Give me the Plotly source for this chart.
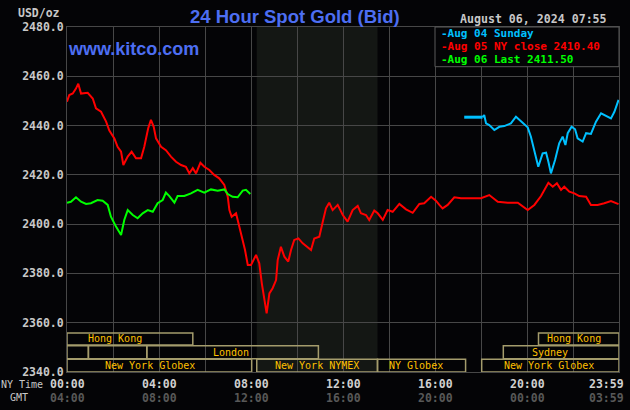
import plotly.graph_objects as go

# ---------------- data (NY time in decimal hours, price USD/oz) ----------------
red_t = [0.00,0.10,0.25,0.39,0.49,0.61,0.90,1.12,1.26,1.48,1.70,1.84,2.06,2.20,2.35,2.45,2.64,2.81,3.00,3.22,
         3.36,3.53,3.65,3.77,3.87,4.09,4.30,4.52,4.74,4.96,5.17,5.32,5.47,5.61,5.80,5.97,6.19,6.40,6.62,6.84,
         6.99,7.06,7.16,7.35,7.49,7.64,7.74,7.86,8.00,8.22,8.36,8.47,8.58,8.68,8.80,8.94,9.09,9.16,9.30,9.45,
         9.62,9.74,9.88,10.06,10.25,10.42,10.61,10.75,10.97,11.12,11.26,11.40,11.55,11.77,11.99,12.20,12.42,12.64,12.78,13.00,
         13.14,13.36,13.51,13.73,13.94,14.16,14.45,14.74,15.03,15.32,15.53,15.83,16.04,16.19,16.33,16.55,16.84,17.13,18.00,18.36,
         18.73,19.16,19.60,20.03,20.32,20.61,20.93,21.12,21.30,21.48,21.62,21.84,22.06,22.27,22.57,22.78,23.07,23.36,23.65,23.98]
red_v = [2449.7,2452.4,2453.0,2455.0,2457.0,2453.0,2453.3,2451.0,2447.0,2445.6,2441.6,2438.0,2434.8,2431.4,2429.4,2424.0,2427.4,2429.4,2426.7,2426.7,
         2431.4,2438.9,2442.3,2439.5,2434.8,2431.4,2430.0,2427.4,2425.3,2424.0,2423.3,2420.6,2422.7,2420.6,2424.9,2423.3,2422.0,2420.0,2418.6,2415.9,
         2411.1,2405.7,2403.0,2404.4,2399.0,2393.6,2389.5,2383.4,2383.4,2387.5,2384.1,2376.0,2368.5,2363.8,2371.9,2374.0,2377.3,2385.4,2390.8,2386.8,
         2384.8,2389.5,2393.6,2394.2,2392.2,2390.8,2389.5,2394.2,2394.9,2401.0,2406.4,2408.7,2405.7,2407.8,2403.7,2401.0,2405.7,2407.4,2404.4,2403.7,
         2401.7,2405.5,2404.4,2401.7,2405.7,2405.0,2408.2,2406.0,2404.6,2408.2,2408.5,2411.1,2409.5,2407.8,2406.4,2407.8,2410.9,2410.5,2410.5,2411.8,
         2409.1,2408.7,2408.7,2405.7,2407.8,2411.4,2416.8,2415.2,2416.6,2413.9,2415.2,2413.2,2412.5,2411.4,2411.1,2407.8,2407.8,2408.5,2409.4,2408.1]

blue_t = [17.27,18.07,18.14,18.22,18.36,18.58,18.80,19.01,19.30,19.52,19.74,20.03,20.17,20.32,20.49,20.68,20.83,20.93,
          21.04,21.22,21.40,21.55,21.67,21.77,21.94,22.09,22.20,22.42,22.57,22.78,23.00,23.22,23.43,23.65,23.80,23.98]
blue_v = [2443.4,2443.4,2444.3,2440.9,2440.2,2438.2,2439.5,2439.8,2440.9,2443.6,2441.6,2439.3,2435.5,2430.1,2423.3,2428.7,2429.0,2425.3,
          2420.6,2426.0,2432.8,2435.5,2432.1,2436.9,2439.5,2438.5,2434.8,2433.5,2436.9,2436.6,2441.6,2445.0,2443.9,2442.9,2445.6,2450.4]

green_t = [0.00,0.17,0.39,0.61,0.83,1.04,1.33,1.55,1.77,1.91,2.13,2.35,2.49,2.64,2.86,3.07,3.29,3.51,3.73,
           3.94,4.16,4.30,4.45,4.67,4.81,5.10,5.39,5.68,5.97,6.26,6.55,6.84,6.99,7.20,7.42,7.64,7.78,7.97]
green_v = [2408.7,2409.1,2410.9,2409.1,2408.2,2408.5,2409.8,2409.5,2407.8,2403.0,2399.0,2395.6,2401.7,2405.7,2403.7,2402.4,2404.4,2405.7,2405.0,
           2408.5,2409.8,2412.8,2411.4,2408.7,2411.4,2411.4,2412.5,2413.9,2412.8,2414.1,2413.6,2414.1,2412.2,2411.1,2410.9,2413.6,2413.9,2412.2]

legend_labels = ["-Aug 04 Sunday", "-Aug 05 NY close 2410.40", "-Aug 06 Last 2411.50"]
ny_tick_labels = ["00:00", "04:00", "08:00", "12:00", "16:00", "20:00", "23:59"]
gmt_tick_labels = ["04:00", "08:00", "12:00", "16:00", "20:00", "00:00", "03:59"]
tick_hours = [0, 4, 8, 12, 16, 20, 23.47]

# trading sessions: row, start hour, end hour, label, label position (hour)
sess_row = [1, 1, 2, 2, 2, 2, 3, 3, 3, 3]
sess_start = [0.0, 20.5, 0.0, 0.93, 3.47, 18.97, 0.0, 8.25, 13.5, 18.03]
sess_end = [5.47, 24.0, 0.93, 3.47, 10.93, 24.0, 8.03, 13.5, 17.33, 24.0]
sess_label = ["Hong Kong", "Hong Kong", "", "", "London", "Sydney",
              "New York Globex", "New York NYMEX", "NY Globex", "New York Globex"]
sess_label_at = [2.1, 22.05, 0, 0, 7.13, 20.98, 3.63, 10.89, 15.19, 20.97]
nymex_open, nymex_close = 8.25, 13.5

# ---------------- style ----------------
BG = "#040406"
GRID = "#474747"
MONO = "DejaVu Sans Mono"
SANS = "Liberation Sans"
BLUE_T = "#4d6ef2"
C_BLUE, C_RED, C_GREEN = "#00c0ff", "#ff0000", "#00ff00"
BAND_LINE = "#a49c6c"
BAND_TEXT = "#ffc000"
row_y = {1: (2351.0, 2355.8), 2: (2345.4, 2350.7), 3: (2340.0, 2345.2)}

W, H = 630, 410
L, R, T, B = 67, 11, 27, 38
def px(xp):
    return (xp - L) / (W - L - R)
def py(yp):
    return (H - B - yp) / (H - T - B)

fig = go.Figure()
fig.add_trace(go.Scatter(x=red_t, y=red_v, mode="lines", line=dict(color=C_RED, width=2), showlegend=False))
fig.add_trace(go.Scatter(x=green_t, y=green_v, mode="lines", line=dict(color=C_GREEN, width=2), showlegend=False))
fig.add_trace(go.Scatter(x=blue_t[:2], y=blue_v[:2], mode="lines", line=dict(color=C_BLUE, width=3), showlegend=False))
fig.add_trace(go.Scatter(x=blue_t[1:], y=blue_v[1:], mode="lines", line=dict(color=C_BLUE, width=2), showlegend=False))

shapes = []
# NYMEX shading
shapes.append(dict(type="rect", xref="x", yref="paper", x0=nymex_open, x1=nymex_close, y0=0, y1=1,
                   fillcolor="#141714", line=dict(width=0), layer="below"))
# session boxes
annotations = []
for r, s, e, lab, at in zip(sess_row, sess_start, sess_end, sess_label, sess_label_at):
    y0, y1 = row_y[r]
    shapes.append(dict(type="rect", xref="x", yref="y", x0=s, x1=e, y0=y0, y1=y1,
                       line=dict(color=BAND_LINE, width=1.5), fillcolor="rgba(0,0,0,0)", layer="above"))
    if lab:
        annotations.append(dict(x=at, y=(y0 + y1) / 2, xref="x", yref="y", text=lab, showarrow=False,
                                font=dict(family=MONO, size=10, color=BAND_TEXT), xanchor="center", yanchor="middle"))
# legend box
shapes.append(dict(type="rect", xref="x", yref="paper", x0=16, x1=24, y0=py(66.7), y1=1,
                   fillcolor=BG, line=dict(color="#5a5a5a", width=1), layer="above"))
for i, (lab, col) in enumerate(zip(legend_labels, [C_BLUE, C_RED, C_GREEN])):
    annotations.append(dict(x=px(440), y=py(33.5 + 13.0 * i), xref="paper", yref="paper", text=lab, showarrow=False,
                            font=dict(family=MONO, size=11, color=col, weight="bold"),
                            xanchor="left", yanchor="middle", borderpad=0))

# title & texts
annotations.append(dict(x=px(294.5), y=py(16), xref="paper", yref="paper", text="24 Hour Spot Gold (Bid)",
                        showarrow=False, font=dict(family=SANS, size=18.5, color=BLUE_T, weight="bold"),
                        xanchor="center", yanchor="middle"))
annotations.append(dict(x=px(66), y=py(49), xref="paper", yref="paper", text="www.kitco.com",
                        showarrow=False, font=dict(family=SANS, size=18, color=BLUE_T, weight="bold"),
                        xanchor="left", yanchor="middle"))
annotations.append(dict(x=px(609), y=py(19.5), xref="paper", yref="paper", text="August 06, 2024 07:55",
                        showarrow=False, font=dict(family=MONO, size=11.6, color="#c8c8c8", weight="bold"),
                        xanchor="right", yanchor="middle"))
annotations.append(dict(x=px(62), y=py(13.3), xref="paper", yref="paper", text="USD/oz",
                        showarrow=False, font=dict(family=MONO, size=11.5, color="#c8c8c8", weight="bold"),
                        xanchor="right", yanchor="middle"))
annotations.append(dict(x=px(45), y=py(384.5), xref="paper", yref="paper", text="NY Time",
                        showarrow=False, font=dict(family=MONO, size=10, color="#c8c8c8"),
                        xanchor="right", yanchor="middle"))
annotations.append(dict(x=px(29.5), y=py(397.5), xref="paper", yref="paper", text="GMT",
                        showarrow=False, font=dict(family=MONO, size=10, color="#c8c8c8"),
                        xanchor="right", yanchor="middle"))
for h, a, g in zip(tick_hours, ny_tick_labels, gmt_tick_labels):
    annotations.append(dict(x=h, y=py(383.5), xref="x", yref="paper", text=a, showarrow=False,
                            font=dict(family=MONO, size=11.5, color="#d0d0d0", weight="bold"),
                            xanchor="center", yanchor="middle"))
    annotations.append(dict(x=h, y=py(397.5), xref="x", yref="paper", text=g, showarrow=False,
                            font=dict(family=MONO, size=11.5, color="#585858", weight="bold"),
                            xanchor="center", yanchor="middle"))

fig.update_layout(
    width=W, height=H, margin=dict(l=L, r=R, t=T, b=B),
    paper_bgcolor=BG, plot_bgcolor=BG, showlegend=False,
    shapes=shapes, annotations=annotations,
    xaxis=dict(range=[0, 24], dtick=2, tick0=0, showgrid=True, gridcolor=GRID, gridwidth=1,
               showline=True, linecolor=GRID, mirror=True, showticklabels=False, ticks="", zeroline=False,
               fixedrange=True),
    yaxis=dict(range=[2340, 2480], dtick=20, tick0=2340, showgrid=True, gridcolor=GRID, gridwidth=1,
               showline=True, linecolor=GRID, mirror=True, ticks="", zeroline=False, tickformat=".1f",
               tickfont=dict(family=MONO, size=11.5, color="#c8c8c8", weight="bold"), fixedrange=True),
)

fig.write_html("out.html", config={"displayModeBar": False})
